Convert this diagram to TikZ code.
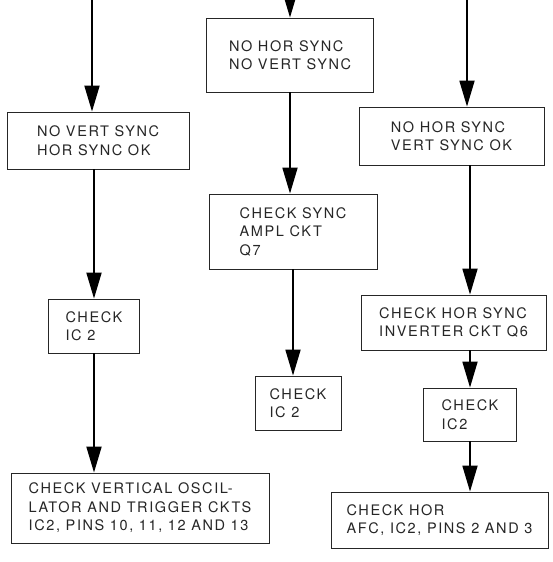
\documentclass[tikz,border=0pt]{standalone}
\usepackage{fontspec}
\setmainfont{TeX Gyre Heros}[LetterSpace=11]
\usetikzlibrary{arrows.meta}
\tikzset{
  box/.style={draw=black!85, line width=0.8pt, inner sep=0pt, align=left,
    font=\fontsize{14.5}{18.5}\selectfont, text=black!85},
  flow/.style={line width=1.8pt, -{Triangle[length=26pt,width=15pt]}}
}
\begin{document}
\begin{tikzpicture}[x=1pt,y=-1pt]
\clip (0,0) rectangle (553,562);
\fill[white] (0,0) rectangle (553,562);
% column 1
\coordinate (ta) at (92,-30);
\node[box, minimum width=182pt, minimum height=57pt] (a1) at (98,140.5) {NO VERT SYNC\\HOR SYNC OK};
\node[box, minimum width=91pt, minimum height=54pt] (a2) at (94,326) {CHECK\\IC 2};
\node[box, minimum width=258pt, minimum height=70pt] (a3) at (140,508) {CHECK VERTICAL OSCIL-\\LATOR AND TRIGGER CKTS\\IC2, PINS 10, 11, 12 AND 13};
% column 2
\coordinate (tb) at (290,-30);
\node[box, minimum width=167pt, minimum height=74pt] (b1) at (290,55) {NO HOR SYNC\\NO VERT SYNC};
\node[box, minimum width=168pt, minimum height=75pt] (b2) at (293,231.5) {CHECK SYNC\\AMPL CKT\\Q7};
\node[box, minimum width=86pt, minimum height=54pt] (b3) at (298,403) {CHECK\\IC 2};
% column 3
\coordinate (tc) at (467,-30);
\node[box, minimum width=185pt, minimum height=58pt] (c1) at (451.5,136) {NO HOR SYNC\\VERT SYNC OK};
\node[box, minimum width=185pt, minimum height=55pt] (c2) at (453.5,322.5) {CHECK HOR SYNC\\INVERTER CKT Q6};
\node[box, minimum width=93pt, minimum height=53pt] (c3) at (470,414.5) {CHECK\\IC2};
\node[box, minimum width=217pt, minimum height=56pt] (c4) at (439.5,520) {CHECK HOR\\AFC, IC2, PINS 2 AND 3};
% connectors
\draw[flow] (ta) -- (ta |- a1.north);
\draw[flow] (a2.north |- a1.south) -- (a2.north);
\draw[flow] (a2.south) -- (a2.south |- a3.north);
\draw[flow] (tb) -- (tb |- b1.north);
\draw[flow] (b1.south) -- (b1.south |- b2.north);
\draw[flow] (b2.south) -- (b2.south |- b3.north);
\draw[flow] (tc) -- (tc |- c1.north);
\draw[flow] (c3.north |- c1.south) -- (c3.north |- c2.north);
\draw[flow] (c3.north |- c2.south) -- (c3.north);
\draw[flow] (c3.south) -- (c3.south |- c4.north);
\end{tikzpicture}
\end{document}
